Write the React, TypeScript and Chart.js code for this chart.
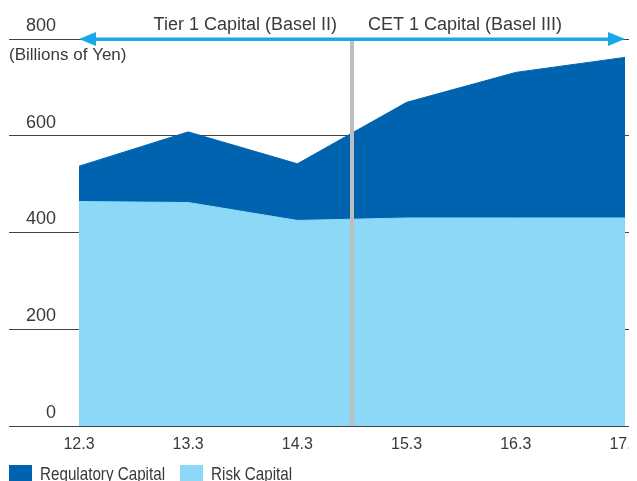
import React, { useEffect, useRef } from 'react';
import { Chart, registerables } from 'chart.js';

Chart.register(...registerables);

// ---- data ----
const categories = ['12.3', '13.3', '14.3', '15.3', '16.3', '17.3'];
const regulatoryCapital = [537, 608, 542, 669, 731, 762];
const riskCapital = [464, 462, 425, 430, 430, 430];
const yTickValues = [0, 200, 400, 600, 800];
const dividerPosition = 2.5; // between 14.3 and 15.3
const periodLabels = ['Tier 1 Capital (Basel II)', 'CET 1 Capital (Basel III)'];
const unitLabel = '(Billions of Yen)';
const seriesNames = ['Regulatory Capital', 'Risk Capital'];

// ---- styles ----
const DARK = '#0063B0';
const LIGHT = '#8ED8F7';
const ARROW = '#1AA7E6';
const DIVIDER = '#BDBDBF';
const TEXT = '#3a3a3a';
const FONT = '"Liberation Sans", Arial, sans-serif';

const overlayPlugin = {
  id: 'overlay',
  afterDatasetsDraw(chart: any) {
    const { ctx, chartArea, scales } = chart;
    const xs = scales.x;
    const ys = scales.y;
    const yTop = ys.getPixelForValue(yTickValues[yTickValues.length - 1]);
    const xDiv = xs.getPixelForValue(dividerPosition);
    const x0 = xs.getPixelForValue(0);
    const x1 = xs.getPixelForValue(categories.length - 1);
    ctx.save();
    // divider
    ctx.fillStyle = DIVIDER;
    ctx.fillRect(Math.round(xDiv) - 2, yTop, 4, chartArea.bottom - yTop);
    // arrow line
    ctx.fillStyle = ARROW;
    ctx.fillRect(x0 + 12, yTop - 1.5, x1 - x0 - 24, 3.5);
    // heads
    ctx.beginPath();
    ctx.moveTo(x0, yTop);
    ctx.lineTo(x0 + 17, yTop - 7);
    ctx.lineTo(x0 + 17, yTop + 7);
    ctx.closePath();
    ctx.fill();
    ctx.beginPath();
    ctx.moveTo(x1, yTop);
    ctx.lineTo(x1 - 17, yTop - 7);
    ctx.lineTo(x1 - 17, yTop + 7);
    ctx.closePath();
    ctx.fill();
    // period labels
    ctx.fillStyle = TEXT;
    ctx.font = `18px ${FONT}`;
    ctx.textBaseline = 'middle';
    ctx.textAlign = 'right';
    ctx.fillText(periodLabels[0], xDiv - 15, yTop - 14);
    ctx.textAlign = 'left';
    ctx.fillText(periodLabels[1], xDiv + 16, yTop - 14);
    // unit label
    ctx.font = `17px ${FONT}`;
    ctx.fillText(unitLabel, chartArea.left, yTop + 16);
    ctx.restore();
  },
  afterDraw(chart: any) {
    const { ctx, chartArea } = chart;
    const ds = chart.data.datasets;
    const items = [
      { name: seriesNames[0], color: ds[1].backgroundColor },
      { name: seriesNames[1], color: ds[0].backgroundColor },
    ];
    const squeeze = 0.8;
    ctx.save();
    ctx.font = `19px ${FONT}`;
    ctx.textBaseline = 'alphabetic';
    ctx.textAlign = 'left';
    let x = chartArea.left;
    const top = chart.height - 16;
    items.forEach((it) => {
      ctx.fillStyle = it.color;
      ctx.fillRect(x, top, 23, 23);
      ctx.fillStyle = TEXT;
      ctx.save();
      ctx.translate(x + 31, chart.height - 1);
      ctx.scale(squeeze, 1);
      ctx.fillText(it.name, 0, 0);
      ctx.restore();
      x += 31 + ctx.measureText(it.name).width * squeeze + 15;
    });
    ctx.restore();
  },
};

export default function App() {
  const ref = useRef<HTMLCanvasElement>(null);
  useEffect(() => {
    const canvas = ref.current!;
    const chart = new Chart(canvas, {
      type: 'line',
      data: {
        datasets: [
          {
            label: seriesNames[1],
            data: riskCapital.map((v, i) => ({ x: i, y: v })),
            backgroundColor: LIGHT,
            borderColor: LIGHT,
            borderWidth: 1,
            pointRadius: 0,
            fill: 'origin',
            tension: 0,
          },
          {
            label: seriesNames[0],
            data: regulatoryCapital.map((v, i) => ({ x: i, y: v })),
            backgroundColor: DARK,
            borderColor: DARK,
            borderWidth: 1,
            pointRadius: 0,
            fill: 'origin',
            tension: 0,
          },
        ],
      },
      plugins: [overlayPlugin],
      options: {
        animation: false,
        responsive: false,
        events: [],
        layout: { autoPadding: false, padding: { left: 1, right: 0, top: 31, bottom: 0 } },
        plugins: { legend: { display: false }, tooltip: { enabled: false } },
        scales: {
          x: {
            type: 'linear',
            min: -0.641,
            max: 5.11,
            afterBuildTicks: (s: any) => {
              s.ticks = categories.map((_, i) => ({ value: i }));
            },
            afterFit: (s: any) => {
              s.height = 55;
              s.paddingLeft = 0;
              s.paddingRight = 0;
            },
            grid: { display: false },
            border: { display: false },
            ticks: {
              callback: (v: any) => categories[Math.round(Number(v))],
              padding: 1,
              maxRotation: 0,
              autoSkip: false,
              color: TEXT,
              font: { family: FONT, size: 16 },
            },
          },
          y: {
            min: 0,
            max: 800,
            afterBuildTicks: (s: any) => {
              s.ticks = yTickValues.map((v) => ({ value: v }));
            },
            afterFit: (s: any) => {
              s.width = 0;
              s.paddingTop = 0;
              s.paddingBottom = 0;
            },
            grid: { color: '#444', lineWidth: 1, drawTicks: false },
            border: { display: false },
            ticks: {
              mirror: true,
              crossAlign: 'far',
              padding: 17,
              labelOffset: -13,
              color: TEXT,
              font: { family: FONT, size: 18 },
            },
          },
        },
      },
    });
    return () => chart.destroy();
  }, []);
  return (
    <div style={{ width: 629, height: 473, overflow: 'hidden' }}>
      <canvas ref={ref} width={629} height={473} style={{ display: 'block' }} />
    </div>
  );
}
